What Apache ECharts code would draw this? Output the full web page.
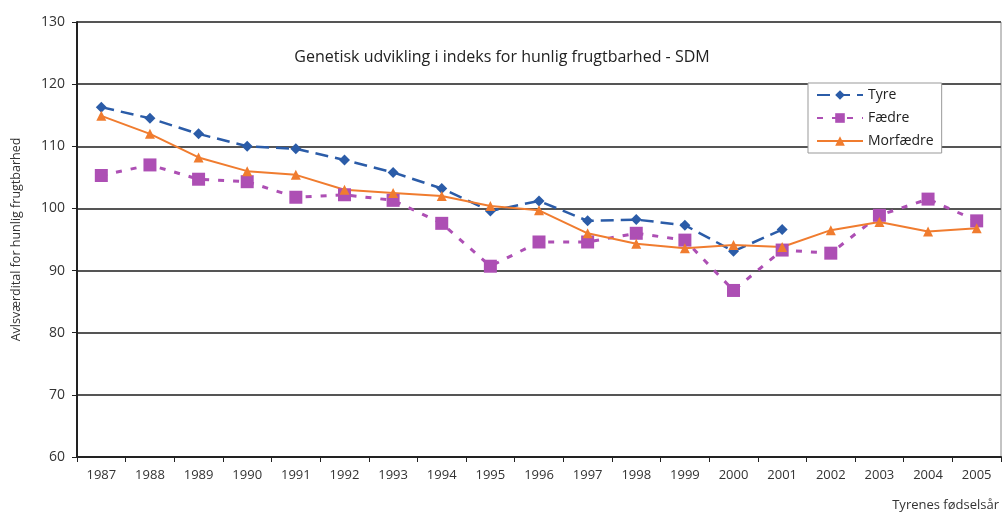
<!DOCTYPE html>
<html>
<head>
<meta charset="utf-8">
<script src="https://cdn.jsdelivr.net/npm/echarts@6/dist/echarts.min.js"></script>
<style>
  html, body { margin: 0; padding: 0; background: #fff; }
  #chart { width: 1006px; height: 519px; }
</style>
</head>
<body>
<div id="chart"></div>
<script>
// --- data ---
const years = ['1987', '1988', '1989', '1990', '1991', '1992', '1993', '1994', '1995', '1996',
  '1997', '1998', '1999', '2000', '2001', '2002', '2003', '2004', '2005'];

const tyre = [116.3, 114.5, 112.0, 110.0, 109.6, 107.8, 105.8, 103.2, 99.6, 101.2,
  98.0, 98.2, 97.3, 93.1, 96.6, null, null, null, null];

const faedre = [105.3, 107.0, 104.7, 104.3, 101.8, 102.2, 101.3, 97.6, 90.7, 94.6,
  94.6, 96.0, 94.9, 86.8, 93.3, 92.8, 98.9, 101.5, 98.0];

const morfaedre = [114.9, 112.0, 108.2, 106.0, 105.4, 103.0, 102.5, 102.0, 100.4, 99.7,
  96.0, 94.3, 93.6, 94.1, 93.8, 96.5, 97.8, 96.3, 96.8];

const COLORS = {
  tyre: '#2b5ca8',
  faedre: '#ad4fb4',
  morfaedre: '#f07c2f',
  grid: '#555',
  text: '#333'
};

const FONT = '"Open Sans", "Noto Sans", sans-serif';

const chart = echarts.init(document.getElementById('chart'));

chart.setOption({
  backgroundColor: '#fff',
  animation: false,
  textStyle: { fontFamily: FONT },
  title: {
    text: 'Genetisk udvikling i indeks for hunlig frugtbarhed - SDM',
    left: 497,
    top: 44,
    textAlign: 'center',
    textStyle: { fontSize: 16, fontWeight: 'normal', color: '#222', fontFamily: FONT }
  },
  legend: {
    orient: 'vertical',
    left: 808,
    top: 83,
    padding: [5, 8, 5, 8],
    itemGap: 9,
    itemWidth: 46,
    itemHeight: 12,
    borderColor: '#999',
    borderWidth: 1,
    backgroundColor: '#fff',
    textStyle: { fontSize: 14, color: '#222', fontFamily: FONT },
    data: ['Tyre', 'Fædre', 'Morfædre']
  },
  grid: {
    left: 77,
    right: 5,
    top: 22,
    bottom: 62,
    show: true,
    borderColor: '#888',
    borderWidth: 1
  },
  xAxis: {
    type: 'category',
    data: years,
    boundaryGap: true,
    name: 'Tyrenes fødselsår',
    nameLocation: 'end',
    nameGap: 0,
    nameTextStyle: {
      fontSize: 13, color: COLORS.text,
      align: 'right', verticalAlign: 'top',
      padding: [42, 2, 0, 0]
    },
    axisLine: { lineStyle: { color: '#222', width: 2 } },
    axisTick: { show: true, length: 5, lineStyle: { color: '#222' } },
    axisLabel: { fontSize: 13, color: COLORS.text, margin: 12 },
    splitLine: { show: false }
  },
  yAxis: {
    type: 'value',
    min: 60,
    max: 130,
    interval: 10,
    name: 'Avlsværdital for hunlig frugtbarhed',
    nameLocation: 'middle',
    nameGap: 54,
    nameTextStyle: { fontSize: 12.5, color: COLORS.text },
    axisLine: { show: true, lineStyle: { color: '#222', width: 2 } },
    axisTick: { show: true, length: 5, lineStyle: { color: '#222' } },
    axisLabel: { fontSize: 14, color: COLORS.text, margin: 12 },
    splitLine: { show: true, lineStyle: { color: COLORS.grid, width: 2 } }
  },
  series: [
    {
      name: 'Tyre',
      type: 'line',
      data: tyre,
      symbol: 'diamond',
      symbolSize: 11,
      connectNulls: false,
      lineStyle: { color: COLORS.tyre, width: 2.5, type: [13, 7] },
      itemStyle: { color: COLORS.tyre }
    },
    {
      name: 'Fædre',
      type: 'line',
      data: faedre,
      symbol: 'rect',
      symbolSize: 13,
      lineStyle: { color: COLORS.faedre, width: 3, type: [6, 9] },
      itemStyle: { color: COLORS.faedre }
    },
    {
      name: 'Morfædre',
      type: 'line',
      data: morfaedre,
      symbol: 'triangle',
      symbolSize: 10,
      lineStyle: { color: COLORS.morfaedre, width: 2 },
      itemStyle: { color: COLORS.morfaedre }
    }
  ]
});
</script>
</body>
</html>
